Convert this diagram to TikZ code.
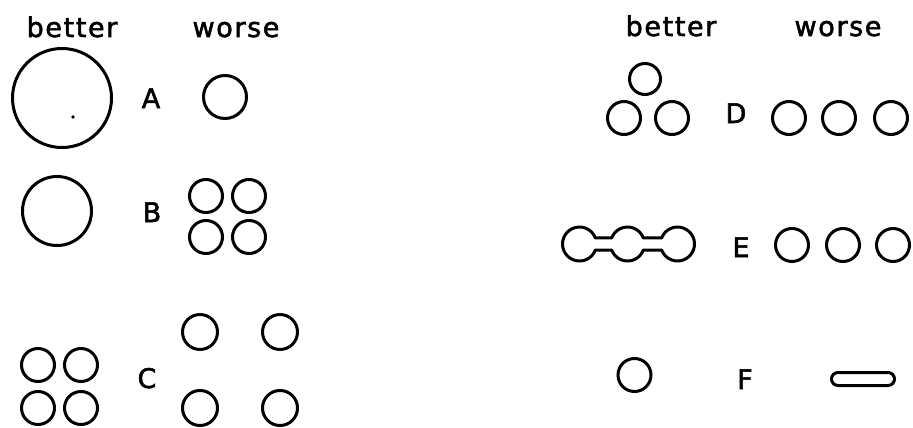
\documentclass[tikz,border=0pt]{standalone}
\usepackage{fontspec}
\usetikzlibrary{calc}
\newfontfamily\lblfont[LetterSpace=6,FakeBold=2]{DejaVu Sans}
\newfontfamily\tagfont[FakeBold=2]{DejaVu Sans}
\begin{document}
\begin{tikzpicture}[x=1pt,y=-1pt,
  ring/.style={circle, draw, line width=3pt, inner sep=0pt, minimum size=#1},
  ring/.default=33pt,
  head/.style={font=\lblfont\fontsize{27}{27}\selectfont, anchor=base, inner sep=0pt},
  tag/.style={font=\tagfont\fontsize{27}{27}\selectfont, anchor=base, inner sep=0pt}]
\useasboundingbox (0,0) rectangle (913,428);

% headings
\node[head] (hbl) at (72,37) {better};
\node[head] (hwl) at (236,37) {worse};
\node[head] (hbr) at (671,36) {better};
\node[head] (hwr) at (838,36) {worse};

% A
\node[ring=99pt] (a1) at (62,98) {};
\fill (73,117) circle (1.8pt);
\node[tag] (la) at (151,108) {A};
\node[ring=43pt] (a2) at (225,97) {};

% B
\node[ring=69pt] (b1) at (57,211) {};
\node[tag] (lb) at (152,222) {B};
\node[ring] (b2) at (206,196) {};
\node[ring] (b3) at (249,196) {};
\node[ring] (b4) at (206,237) {};
\node[ring] (b5) at (249,237) {};

% C
\node[ring] (c1) at (38,365) {};
\node[ring] (c2) at (81,365) {};
\node[ring] (c3) at (38,408) {};
\node[ring] (c4) at (81,408) {};
\node[tag] (lc) at (147,388) {C};
\node[ring=35pt] (c5) at (200,332) {};
\node[ring=35pt] (c6) at (280,332) {};
\node[ring=35pt] (c7) at (200,408) {};
\node[ring=35pt] (c8) at (280,408) {};

% D
\node[ring=31pt] (d1) at (645,79) {};
\node[ring] (d2) at (624,118) {};
\node[ring] (d3) at (672,118) {};
\node[tag] (ld) at (736,123) {D};
\node[ring] (d4) at (789,118) {};
\node[ring] (d5) at (839,118) {};
\node[ring] (d6) at (891,118) {};

% E
\coordinate (e1) at (579.5,244);
\coordinate (e2) at (627.5,244);
\coordinate (e3) at (677.5,244);
\draw[line width=3pt, line join=round]
  ($(e1)+(20.7:17)$) arc[start angle=20.7, end angle=339.3, radius=17]
  -- ($(e2)+(200.7:17)$) arc[start angle=200.7, end angle=339.3, radius=17]
  -- ($(e3)+(200.7:17)$) arc[start angle=200.7, end angle=519.3, radius=17]
  -- ($(e2)+(20.7:17)$) arc[start angle=20.7, end angle=159.3, radius=17]
  -- cycle;
\node[tag] (le) at (741,257) {E};
\node[ring] (e4) at (792,245) {};
\node[ring] (e5) at (843,245) {};
\node[ring] (e6) at (893,245) {};

% F
\node[ring] (f1) at (634.5,375) {};
\node[tag] (lf) at (745,389) {F};
\draw[line width=3pt, rounded corners=6.5pt] (831.5,372.5) rectangle (894.5,385.5);
\end{tikzpicture}
\end{document}
